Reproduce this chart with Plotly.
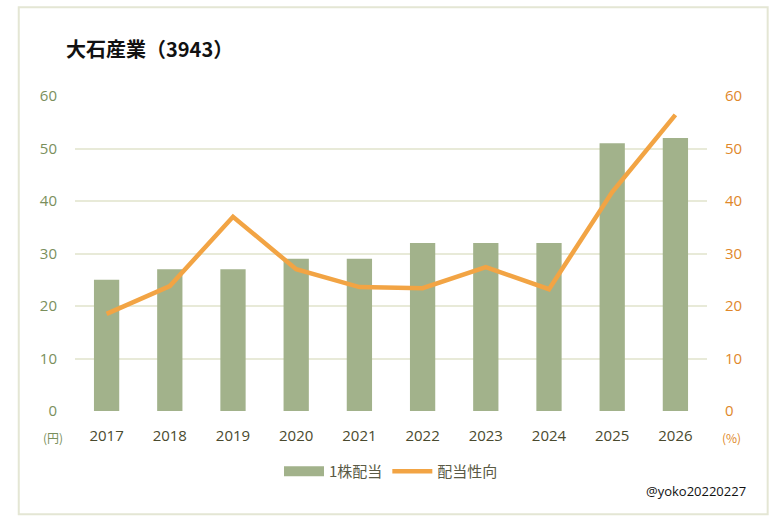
import plotly.graph_objects as go

years = ["2017", "2018", "2019", "2020", "2021", "2022", "2023", "2024", "2025", "2026"]
dividend = [25, 27, 27, 29, 29, 32, 32, 32, 51, 52]
payout = [18.5, 23.8, 37.0, 27.0, 23.6, 23.4, 27.4, 23.2, 41.7, 56.4]
ticks = [0, 10, 20, 30, 40, 50, 60]

JP = "Noto Sans CJK JP"
NUM = "Open Sans"
BAR = "#a2b28b"

fig = go.Figure()
fig.add_trace(go.Bar(
    x=years, y=dividend, name="1株配当", width=0.4,
    marker=dict(color=BAR, line=dict(width=0)),
    yaxis="y", showlegend=False,
))
# legend proxy giving a wide rectangular swatch like the original
fig.add_trace(go.Scatter(
    x=[None], y=[None], name="1株配当", mode="lines",
    line=dict(color=BAR, width=10), yaxis="y",
))
fig.add_trace(go.Scatter(
    x=years, y=payout, name="配当性向", mode="lines",
    line=dict(color="#f2a444", width=4.5),
    yaxis="y2",
))

fig.update_layout(
    width=777, height=525,
    paper_bgcolor="white", plot_bgcolor="white",
    margin=dict(l=75, r=70, t=96, b=114),
    showlegend=True,
    legend=dict(orientation="h", x=0.5, xanchor="center", y=-0.14, yanchor="top",
                font=dict(family=JP, size=15, color="#5a5a45"),
                itemwidth=40, traceorder="normal"),
    bargap=0.6,
    xaxis=dict(type="category", showgrid=False, showline=False, ticks="",
               tickfont=dict(family=NUM, size=15, color="#4a4a2e"), ticklabelstandoff=14),
    yaxis=dict(range=[0, 60], tickvals=ticks, showgrid=True, gridcolor="#e8ead8",
               gridwidth=2, zeroline=False, showline=False, ticks="",
               tickfont=dict(family=NUM, size=15, color="#7a8f5c"), ticklabelstandoff=17),
    yaxis2=dict(range=[0, 60], tickvals=ticks, overlaying="y", side="right",
                showgrid=False, zeroline=False, showline=False, ticks="",
                tickfont=dict(family=NUM, size=15, color="#e0882a"), ticklabelstandoff=17),
    shapes=[dict(type="rect", xref="paper", yref="paper", x0=-0.089, x1=1.096,
                 y0=-0.328, y1=1.282, line=dict(color="#e4e6d4", width=2))],
    annotations=[
        dict(text="<b>大石産業（3943）</b>", xref="paper", yref="paper", x=-0.018, y=1.152,
             xanchor="left", yanchor="middle", showarrow=False,
             font=dict(family=JP, size=20, color="#111111")),
        dict(text="(円)", xref="paper", yref="paper", x=-0.035, y=-0.085,
             xanchor="center", yanchor="middle", showarrow=False,
             font=dict(family=JP, size=12, color="#7a8f5c")),
        dict(text="(%)", xref="paper", yref="paper", x=1.038, y=-0.085,
             xanchor="center", yanchor="middle", showarrow=False,
             font=dict(family=JP, size=12, color="#e0882a")),
        dict(text="@yoko20220227", xref="paper", yref="paper", x=1.065, y=-0.255,
             xanchor="right", yanchor="middle", showarrow=False,
             font=dict(family=NUM, size=13, color="#111111")),
    ],
)

fig.write_html("out.html")
